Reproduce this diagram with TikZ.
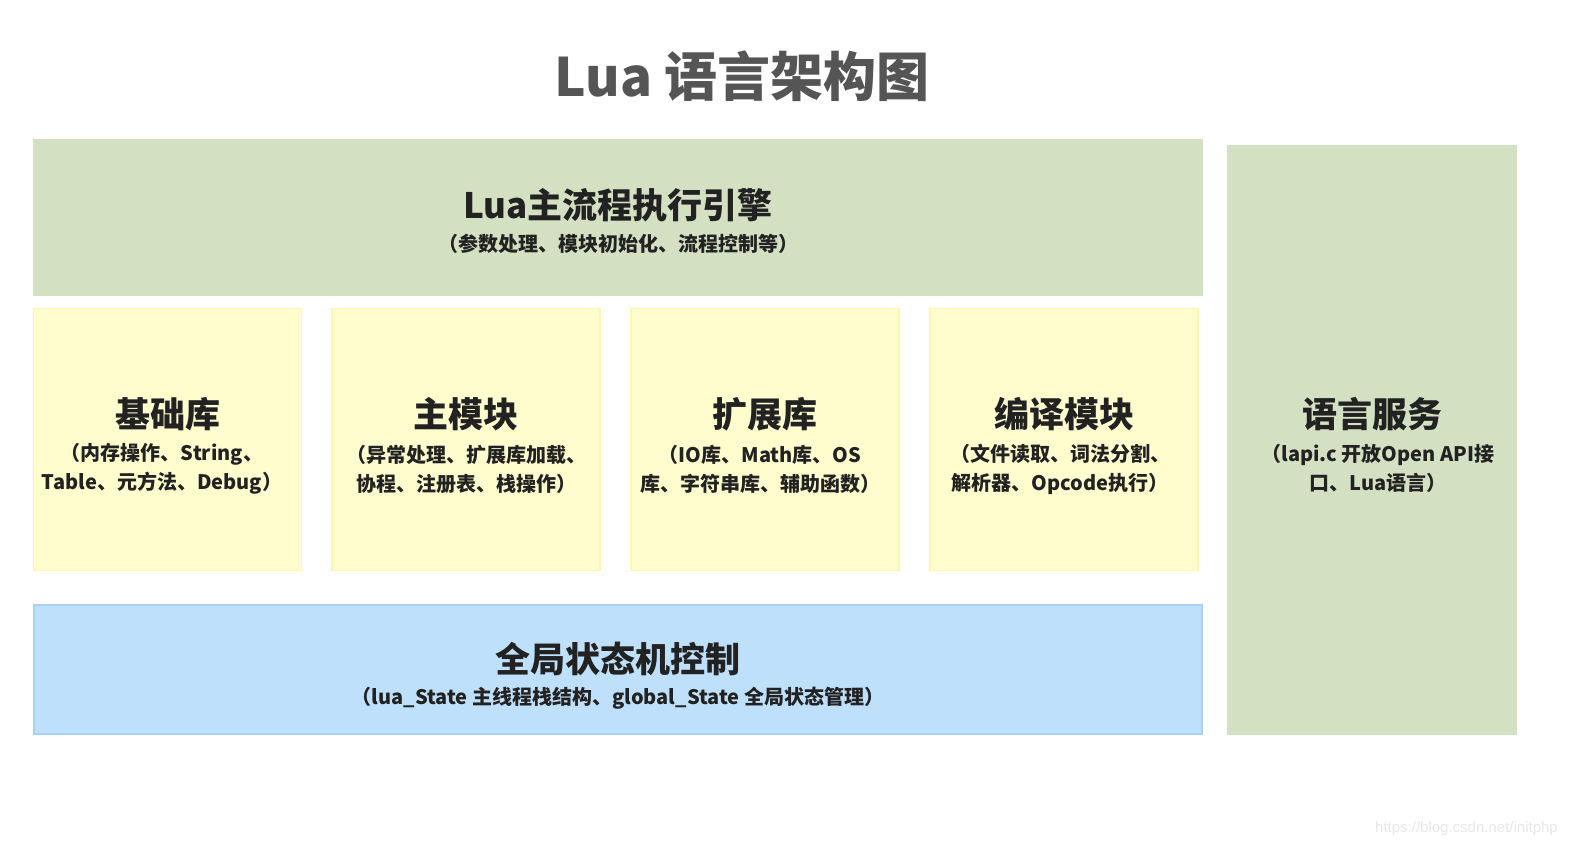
\documentclass[tikz,border=0pt]{standalone}
\usepackage{fontspec}
\setmainfont{Noto Sans CJK SC}
\newfontfamily\wmfont{Liberation Sans}
\definecolor{boxgreen}{RGB}{212,224,194}
\definecolor{boxyellow}{RGB}{255,252,206}
\definecolor{edgeyellow}{RGB}{255,246,175}
\definecolor{boxblue}{RGB}{191,224,251}
\definecolor{edgeblue}{RGB}{165,210,246}
\definecolor{titlegray}{RGB}{85,85,85}
\definecolor{textdark}{RGB}{34,34,34}
\definecolor{wmgray}{RGB}{232,232,232}
\tikzset{
  greenbox/.style={rectangle, fill=boxgreen, draw=none, inner sep=0},
  yellowbox/.style={rectangle, fill=boxyellow, draw=edgeyellow, line width=1.5pt, inner sep=0, minimum width=268pt, minimum height=262pt},
  bluebox/.style={rectangle, fill=boxblue, draw=edgeblue, line width=1.5pt, inner sep=0},
  headtext/.style={text=textdark, font=\bfseries\fontsize{35}{42}\selectfont, inner sep=0},
  subtext/.style={text=textdark, font=\bfseries\fontsize{20}{29}\selectfont, inner sep=0, align=center},
}
\begin{document}
\begin{tikzpicture}[x=1pt,y=-1pt]
\useasboundingbox[fill=white] (0,0) rectangle (1574,850);
% title
\node[text=titlegray, font=\bfseries\fontsize{53}{60}\selectfont, inner sep=0] (title) at (742,76) {Lua 语言架构图};
% top engine box
\node[greenbox, minimum width=1170pt, minimum height=157pt] (engine) at (618,217.5) {};
\node[headtext] (engineT) at (618,205) {Lua主流程执行引擎};
\node[subtext] (engineS) at (618,244) {（参数处理、模块初始化、流程控制等）};
% right service box
\node[greenbox, minimum width=290pt, minimum height=590pt] (svc) at (1372,440) {};
\node[headtext] (svcT) at (1372,414) {语言服务};
\node[subtext] (svcS) at (1378,468) {（lapi.c 开放Open API接\\口、Lua语言）};
% yellow boxes
\node[yellowbox] (base) at (167.5,439.5) {};
\node[headtext] (baseT) at (167.5,414) {基础库};
\node[subtext] (baseS) at (162,469) {（内存操作、String、\\Table、元方法、Debug）};
\node[yellowbox] (main) at (466,439.5) {};
\node[headtext] (mainT) at (466,414) {主模块};
\node[subtext] (mainS) at (466,469) {（异常处理、扩展库加载、\\协程、注册表、栈操作）};
\node[yellowbox] (ext) at (765,439.5) {};
\node[headtext] (extT) at (765,414) {扩展库};
\node[subtext] (extS) at (760,469) {（IO库、Math库、OS\\库、字符串库、辅助函数）};
\node[yellowbox] (comp) at (1064,439.5) {};
\node[headtext] (compT) at (1064,414) {编译模块};
\node[subtext] (compS) at (1060,469) {（文件读取、词法分割、\\解析器、Opcode执行）};
% blue state box
\node[bluebox, minimum width=1168pt, minimum height=129pt] (state) at (618,669.5) {};
\node[headtext] (stateT) at (618,659) {全局状态机控制};
\node[subtext] (stateS) at (618,698) {（lua\_State 主线程栈结构、global\_State 全局状态管理）};
% watermark
\node[text=wmgray, font=\wmfont\fontsize{15}{18}\selectfont, inner sep=0, anchor=east] (wm) at (1558,829) {https://blog.csdn.net/initphp};
\end{tikzpicture}
\end{document}
